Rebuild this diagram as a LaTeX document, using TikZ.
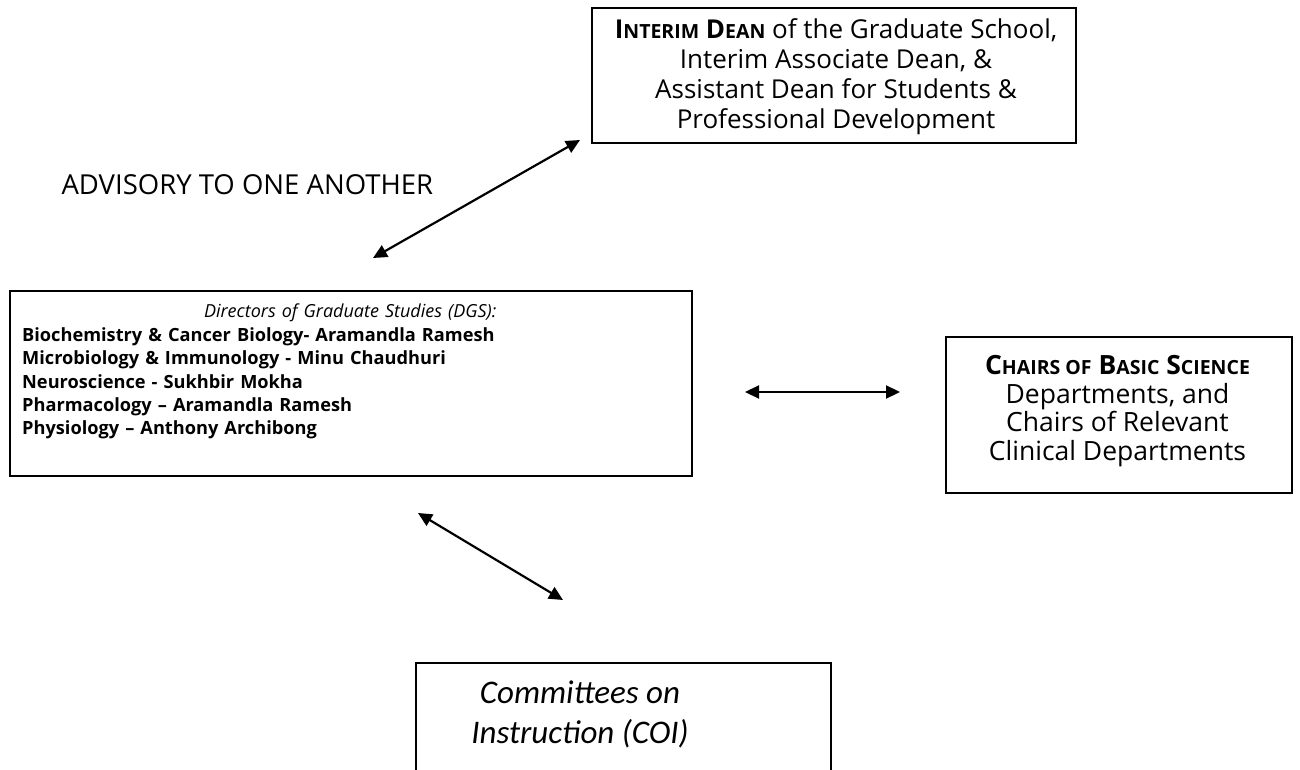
\documentclass[tikz,border=0pt]{standalone}
\usepackage{fontspec}
\setmainfont{Open Sans}
\newfontfamily\coifont{Carlito}
\usetikzlibrary{arrows.meta}

% fake small capitals: big first letter, smaller rest
\newcommand\capsword[3][19.5]{#2{\fontsize{#1}{#1}\selectfont #3}}

\begin{document}
\begin{tikzpicture}[x=1pt, y=-1pt,
    box/.style = {draw, line width=1.6pt, inner sep=0pt},
    both/.style = {{Triangle[length=14pt,width=13pt]}-{Triangle[length=14pt,width=13pt]}, line width=2.2pt}]
    \useasboundingbox (0,0) rectangle (1300,770);

    \node[box, anchor=north west, minimum width=484, minimum height=135] (dean) at (591,7) {};
    \node[align=center, font=\fontsize{26}{29.8}\selectfont] (deantext) at (836,76.5) {\textbf{\capsword{I}{NTERIM} \capsword{D}{EAN}} of the Graduate School,\\ Interim Associate Dean, \&\\ Assistant Dean for Students \&\\ Professional Development};

    \node[anchor=west, font=\fontsize{27.5}{30}\selectfont] (advisory) at (58,185) {ADVISORY TO ONE ANOTHER};

    \node[box, anchor=north west, minimum width=682, minimum height=185] (dgs) at (9,290) {};
    \node[anchor=north west, inner sep=0pt, text width=656, font=\fontsize{18.2}{23.4}\selectfont] (dgstext) at (22,304)
        {{\centering\itshape\fontsize{18}{23.4}\selectfont Directors of Graduate Studies (DGS):\par}
         {\raggedright\bfseries Biochemistry \& Cancer Biology- Aramandla Ramesh\\
          Microbiology \& Immunology - Minu Chaudhuri\\
          Neuroscience - Sukhbir Mokha\\
          Pharmacology -- Aramandla Ramesh\\
          Physiology -- Anthony Archibong\par}};

    \node[box, anchor=north west, minimum width=346, minimum height=156] (chairs) at (945,336) {};
    \node[align=center, font=\fontsize{26.5}{28.6}\selectfont] (chairstext) at (1117.5,411) {\textbf{\capsword{C}{HAIRS OF} \capsword{B}{ASIC} \capsword{S}{CIENCE}}\\ Departments, and\\ Chairs of Relevant\\ Clinical Departments};

    \node[box, anchor=north west, minimum width=415, minimum height=150] (coi) at (415,662) {};
    \node[align=center, font=\coifont\itshape\fontsize{33}{40}\selectfont] (coitext) at (580,714) {Committees on\\ Instruction (COI)};

    % arrow ends
    \coordinate (up1) at (580,140);
    \coordinate (up2) at (373,258);
    \coordinate (mid1) at (745,392);
    \coordinate (mid2) at (900,392);
    \coordinate (low1) at (418,513);
    \coordinate (low2) at (563,600);

    \path[both] (up2) edge (up1);
    \path[both] (mid1) edge (mid2);
    \path[both] (low1) edge (low2);
\end{tikzpicture}
\end{document}
